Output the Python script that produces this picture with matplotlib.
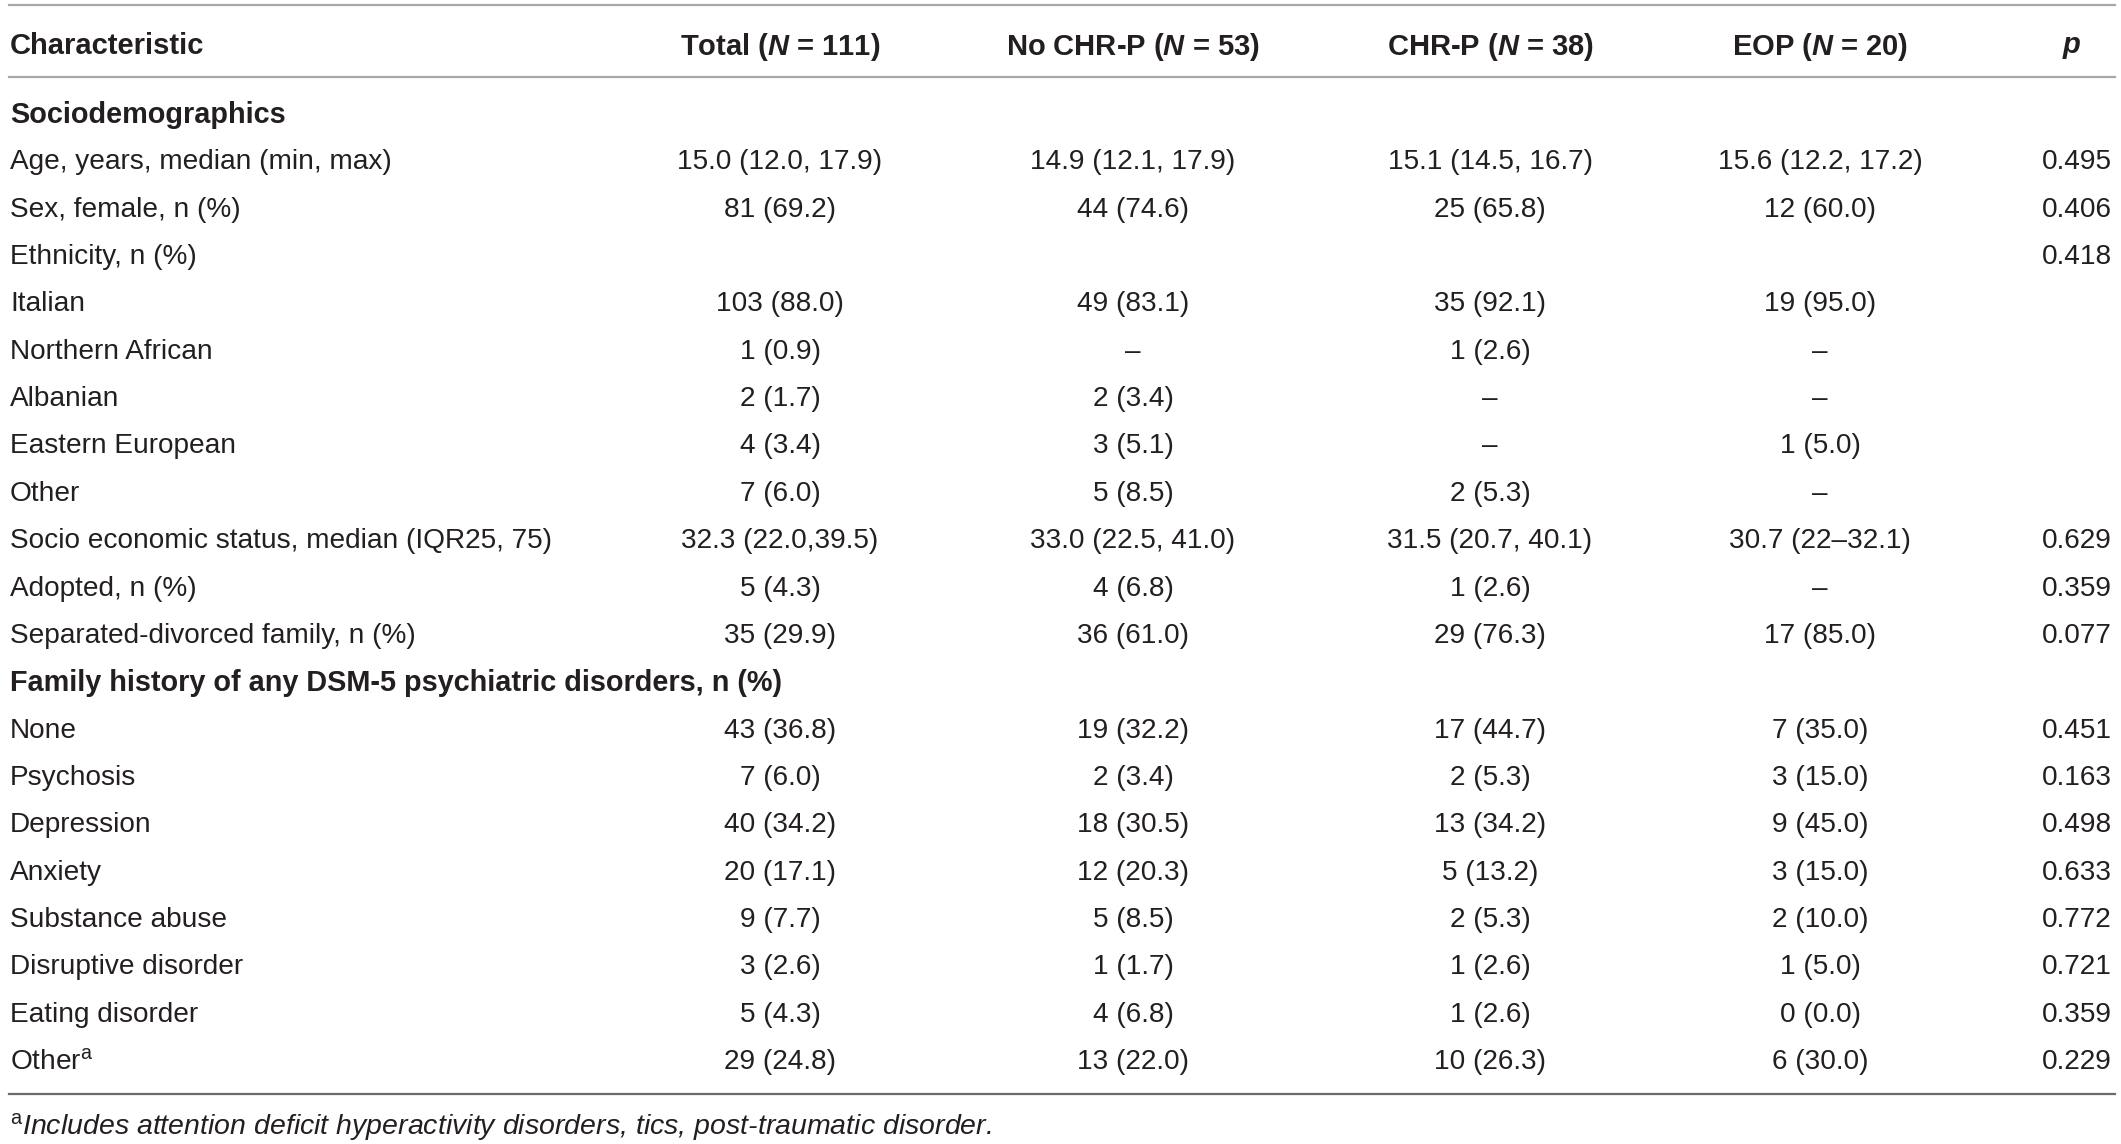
import matplotlib
matplotlib.use('Agg')
import matplotlib.pyplot as plt

plt.rcParams['font.family'] = ['Liberation Sans', 'DejaVu Sans']
plt.rcParams['mathtext.fontset'] = 'custom'
plt.rcParams['mathtext.rm'] = 'Liberation Sans'
plt.rcParams['mathtext.it'] = 'Liberation Sans:italic:bold'

# table content
headers = ['Characteristic', r'Total ($N$ = 111)', r'No CHR-P ($N$ = 53)',
           r'CHR-P ($N$ = 38)', r'EOP ($N$ = 20)', r'$p$']

labels = ['Sociodemographics',
          'Age, years, median (min, max)',
          'Sex, female, n (%)',
          'Ethnicity, n (%)',
          'Italian',
          'Northern African',
          'Albanian',
          'Eastern European',
          'Other',
          'Socio economic status, median (IQR25, 75)',
          'Adopted, n (%)',
          'Separated-divorced family, n (%)',
          'Family history of any DSM-5 psychiatric disorders, n (%)',
          'None',
          'Psychosis',
          'Depression',
          'Anxiety',
          'Substance abuse',
          'Disruptive disorder',
          'Eating disorder',
          r'Other$^{\mathrm{a}}$']

is_section = [True, False, False, False, False, False, False, False, False, False,
              False, False, True, False, False, False, False, False, False, False, False]

total = ['', '15.0 (12.0, 17.9)', '81 (69.2)', '', '103 (88.0)', '1 (0.9)', '2 (1.7)',
         '4 (3.4)', '7 (6.0)', '32.3 (22.0,39.5)', '5 (4.3)', '35 (29.9)', '',
         '43 (36.8)', '7 (6.0)', '40 (34.2)', '20 (17.1)', '9 (7.7)', '3 (2.6)',
         '5 (4.3)', '29 (24.8)']

no_chrp = ['', '14.9 (12.1, 17.9)', '44 (74.6)', '', '49 (83.1)', '–', '2 (3.4)',
           '3 (5.1)', '5 (8.5)', '33.0 (22.5, 41.0)', '4 (6.8)', '36 (61.0)', '',
           '19 (32.2)', '2 (3.4)', '18 (30.5)', '12 (20.3)', '5 (8.5)', '1 (1.7)',
           '4 (6.8)', '13 (22.0)']

chrp = ['', '15.1 (14.5, 16.7)', '25 (65.8)', '', '35 (92.1)', '1 (2.6)', '–',
        '–', '2 (5.3)', '31.5 (20.7, 40.1)', '1 (2.6)', '29 (76.3)', '',
        '17 (44.7)', '2 (5.3)', '13 (34.2)', '5 (13.2)', '2 (5.3)', '1 (2.6)',
        '1 (2.6)', '10 (26.3)']

eop = ['', '15.6 (12.2, 17.2)', '12 (60.0)', '', '19 (95.0)', '–', '–',
       '1 (5.0)', '–', '30.7 (22–32.1)', '–', '17 (85.0)', '',
       '7 (35.0)', '3 (15.0)', '9 (45.0)', '3 (15.0)', '2 (10.0)', '1 (5.0)',
       '0 (0.0)', '6 (30.0)']

pvals = ['', '0.495', '0.406', '0.418', '', '', '', '', '', '0.629', '0.359', '0.077', '',
         '0.451', '0.163', '0.498', '0.633', '0.772', '0.721', '0.359', '0.229']

footnote = r'$^{\mathrm{a}}$Includes attention deficit hyperactivity disorders, tics, post-traumatic disorder.'

W, H = 2121, 1144
fig = plt.figure(figsize=(W / 100, H / 100), dpi=100)
ax = fig.add_axes([0, 0, 1, 1])
ax.set_xlim(0, W)
ax.set_ylim(H, 0)
ax.axis('off')

txt = '#231f20'
fs = 20.2
fs_bold = 20.8
col_x = [10, 780, 1133, 1490, 1820, 2077]
head_x = [10, 780, 1133, 1490, 1820, 2072]
row0 = 112
dy = 47.35

# rules
ax.plot([9, 2115], [5, 5], color='#a8a8a8', lw=1.6)
ax.plot([9, 2115], [77, 77], color='#a8a8a8', lw=1.6)
ax.plot([9, 2115], [1094, 1094], color='#6b6b6b', lw=1.6)

# header
for i, h in enumerate(headers):
    ax.text(head_x[i], 43, h, ha='left' if i == 0 else 'center', va='center_baseline',
            fontsize=21, fontweight='bold', color=txt)

columns = [total, no_chrp, chrp, eop, pvals]
for r, lab in enumerate(labels):
    y = row0 + dy * r
    ax.text(col_x[0], y, lab, ha='left', va='center_baseline',
            fontsize=fs_bold if is_section[r] else fs,
            fontweight='bold' if is_section[r] else 'normal', color=txt)
    for c, col in enumerate(columns):
        if col[r]:
            ax.text(col_x[c + 1], y, col[r], ha='center', va='center_baseline',
                    fontsize=fs, color=txt)

ax.text(10, 1123, footnote, ha='left', va='center_baseline', fontsize=20.5,
        fontstyle='italic', color=txt)

fig.savefig('out.png', dpi=100, facecolor='white')
